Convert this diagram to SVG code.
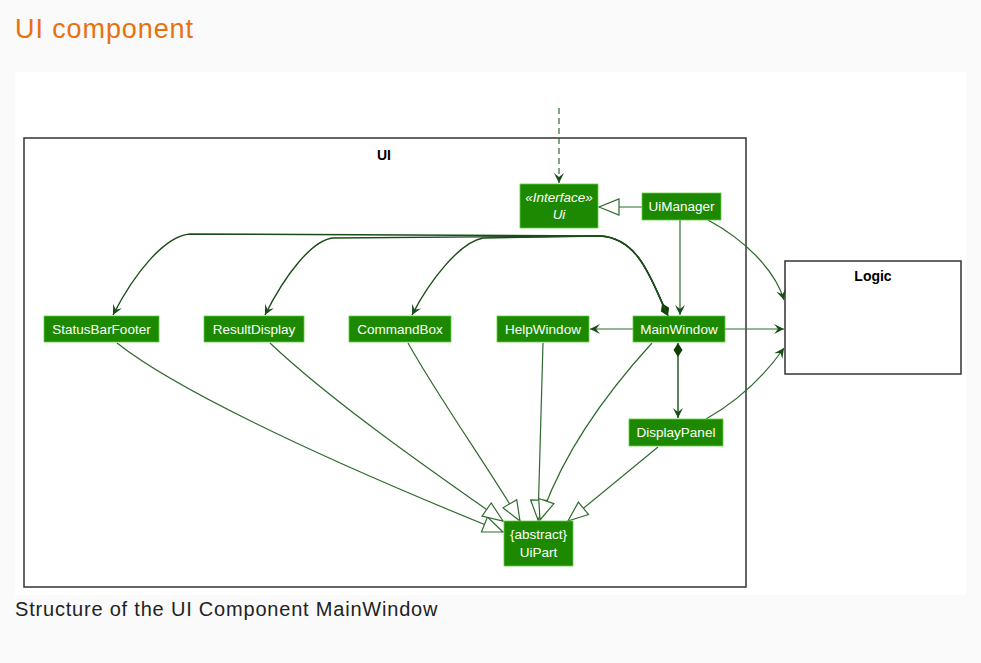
<svg xmlns="http://www.w3.org/2000/svg" width="981" height="663" viewBox="0 0 981 663">
<style>
.node rect{fill:#1d8900;stroke:#5fcf3f;stroke-width:0.8}
.node text{fill:#ffffff;font-family:"Liberation Sans",Arial,sans-serif;font-size:13.5px;text-anchor:middle}
.it{font-style:italic}
.pkg{fill:none;stroke:#333333;stroke-width:1.5}
.pkgl{font-family:"Liberation Sans",Arial,sans-serif;font-size:14px;font-weight:bold;fill:#000;text-anchor:middle}
.e{fill:none;stroke:#2f6a2f;stroke-width:1.2}
.c{fill:none;stroke:#1a4d1a;stroke-width:1.4}
</style>
<defs>
<marker id="arr" viewBox="0 0 12 12" refX="11" refY="6" markerWidth="12" markerHeight="12" markerUnits="userSpaceOnUse" orient="auto">
<path d="M11,6 L1,1 L5,6 L1,11 Z" fill="#1a4d1a"/>
</marker>
<marker id="tri" viewBox="-1 -1 22 18" refX="20" refY="8" markerWidth="22" markerHeight="18" markerUnits="userSpaceOnUse" orient="auto">
<path d="M20,8 L0,0 L0,16 Z" fill="#ffffff" stroke="#2f6a2f" stroke-width="1.2"/>
</marker>
<marker id="dia" viewBox="-1 -1 16 12" refX="0" refY="5" markerWidth="16" markerHeight="12" markerUnits="userSpaceOnUse" orient="auto">
<path d="M0,5 L7,0.5 L14,5 L7,9.5 Z" fill="#0e4100"/>
</marker>
</defs>
<rect x="0" y="0" width="981" height="663" fill="#fafafa"/>
<text x="15" y="38" font-family="Liberation Sans,Arial,sans-serif" font-size="27" letter-spacing="0.9" fill="#e8700e">UI component</text>
<rect x="15" y="72" width="951" height="523" fill="#ffffff"/>

<g id="UI">
<rect class="pkg" x="24" y="138" width="722" height="449"/>
<text class="pkgl" x="384" y="160">UI</text>
</g>
<g id="Logic">
<rect class="pkg" x="785" y="261" width="176" height="113"/>
<text class="pkgl" x="873" y="281">Logic</text>
</g>

<g id="connectors">
<path class="e" d="M559,108 L559,183" stroke-dasharray="6,4" marker-end="url(#arr)"/>
<path class="e" d="M642,207 L599,207" marker-end="url(#tri)"/>
<path class="c" d="M668,316 C652,282 640,238 600,236 L190,234 C165,236 135,272 113,315" marker-start="url(#dia)" marker-end="url(#arr)"/>
<path class="c" d="M668,316 C652,282 640,238 600,236 L333,238 C312,240 285,275 265,315" marker-end="url(#arr)"/>
<path class="c" d="M668,316 C652,282 640,238 600,236 L483,238 C460,242 430,280 412,315" marker-end="url(#arr)"/>
<path class="e" d="M680,220 L680,315" marker-end="url(#arr)"/>
<path class="e" d="M633,329 L590,329" marker-end="url(#arr)"/>
<path class="e" d="M725,329 L784,329" marker-end="url(#arr)"/>
<path class="e" d="M708,220 C745,240 775,270 784,300" marker-end="url(#arr)"/>
<path class="e" d="M706,419 C740,400 765,375 784,348" marker-end="url(#arr)"/>
<path class="c" d="M678,343 L678,418" marker-start="url(#dia)" marker-end="url(#arr)"/>
<path class="e" d="M117,343 C170,385 300,450 503,532" marker-end="url(#tri)"/>
<path class="e" d="M270,343 C330,400 430,470 503,521" marker-end="url(#tri)"/>
<path class="e" d="M408,343 C440,400 490,470 520,521" marker-end="url(#tri)"/>
<path class="e" d="M543,343 L538,520" marker-end="url(#tri)"/>
<path class="e" d="M652,343 C600,400 560,460 540,520" marker-end="url(#tri)"/>
<path class="e" d="M658,447 L568,521" marker-end="url(#tri)"/>
</g>

<g id="Ui" class="node">
<rect x="520" y="184" width="78" height="44"/>
<text class="it" x="559" y="202" font-size="12">«Interface»</text>
<text class="it" x="559" y="219">Ui</text>
</g>
<g id="UiManager" class="node">
<rect x="642" y="193" width="79" height="27"/>
<text x="681.5" y="211">UiManager</text>
</g>
<g id="StatusBarFooter" class="node">
<rect x="44" y="316" width="115" height="26"/>
<text x="101.5" y="334">StatusBarFooter</text>
</g>
<g id="ResultDisplay" class="node">
<rect x="204" y="316" width="100" height="26"/>
<text x="254" y="334">ResultDisplay</text>
</g>
<g id="CommandBox" class="node">
<rect x="349" y="316" width="102" height="26"/>
<text x="400" y="334">CommandBox</text>
</g>
<g id="HelpWindow" class="node">
<rect x="497" y="316" width="92" height="26"/>
<text x="543" y="334">HelpWindow</text>
</g>
<g id="MainWindow" class="node">
<rect x="633" y="316" width="92" height="26"/>
<text x="679" y="334">MainWindow</text>
</g>
<g id="DisplayPanel" class="node">
<rect x="629" y="419" width="94" height="27"/>
<text x="676" y="437">DisplayPanel</text>
</g>
<g id="UiPart" class="node">
<rect x="504" y="521" width="69" height="45"/>
<text x="538.5" y="539">{abstract}</text>
<text x="538.5" y="557">UiPart</text>
</g>

<text x="15" y="616" font-family="Liberation Sans,Arial,sans-serif" font-size="20" letter-spacing="0.8" fill="#222222">Structure of the UI Component MainWindow</text>
</svg>
